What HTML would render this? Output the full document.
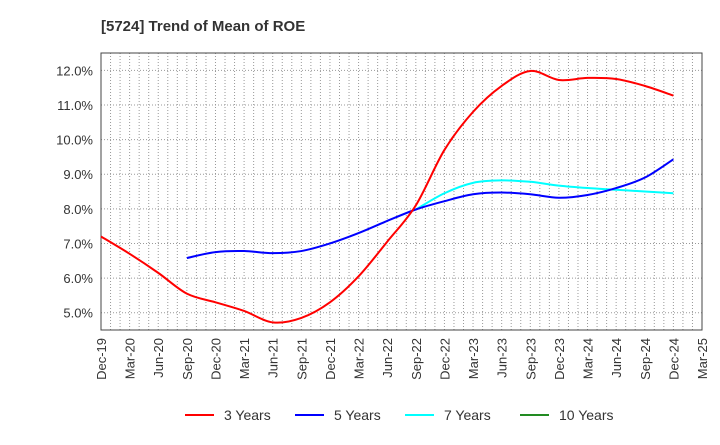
<!DOCTYPE html>
<html><head><meta charset="utf-8"><style>
body{margin:0;background:#fff;font-family:"Liberation Sans",sans-serif;}
</style></head><body>
<svg id="chart" width="720" height="440" xmlns="http://www.w3.org/2000/svg">
<text x="101" y="31" font-size="15" font-weight="bold" fill="#333">[5724]  Trend of Mean of ROE</text>
<g id="grid"></g><g id="axes"></g><g id="series"></g><g id="legend"></g>
</svg>
<script>
const categories=["Dec-19","Mar-20","Jun-20","Sep-20","Dec-20","Mar-21","Jun-21","Sep-21","Dec-21","Mar-22","Jun-22","Sep-22","Dec-22","Mar-23","Jun-23","Sep-23","Dec-23","Mar-24","Jun-24","Sep-24","Dec-24","Mar-25"];
const yTicks=[5,6,7,8,9,10,11,12];
const years3=[7.2,6.7,6.15,5.55,5.3,5.05,4.72,4.85,5.3,6.05,7.05,8.1,9.7,10.8,11.55,11.98,11.72,11.78,11.75,11.55,11.27];
const years5=[null,null,null,6.58,6.75,6.78,6.72,6.78,7.0,7.3,7.65,7.98,8.22,8.42,8.47,8.42,8.32,8.4,8.6,8.9,9.43];
const years7=[null,null,null,null,null,null,null,null,null,null,null,7.98,8.45,8.75,8.82,8.78,8.67,8.6,8.55,8.5,8.45];
const years10=[];
const L=101,R=702,T=53,B=330,yMin=4.5,yMax=12.5;
const NS="http://www.w3.org/2000/svg";
const xs=i=>L+(R-L)*i/(categories.length-1);
const ys=v=>B-(v-yMin)/(yMax-yMin)*(B-T);
function mk(tag,attrs,parent){const e=document.createElementNS(NS,tag);for(const k in attrs)e.setAttribute(k,attrs[k]);parent.appendChild(e);return e;}
const grid=document.getElementById('grid'),axes=document.getElementById('axes'),ser=document.getElementById('series'),leg=document.getElementById('legend');
for(let m=1;m<(categories.length-1)*3;m++){const x=L+(R-L)*m/((categories.length-1)*3);
const l=mk('line',{x1:x,x2:x,y1:T,y2:B,stroke:'#999','stroke-dasharray':'1,2','stroke-width':1},grid);

}
yTicks.forEach(v=>{const y=ys(v);
const l=mk('line',{x1:L,x2:R,y1:y,y2:y,stroke:'#999','stroke-dasharray':'1,2','stroke-width':1},grid);


const t=mk('text',{x:L-8,y:y+5,'text-anchor':'end','font-size':13,fill:'#333'},axes);t.textContent=v.toFixed(1)+'%';

});
categories.forEach((c,i)=>{const x=xs(i);
const t=mk('text',{transform:`translate(${x+5},338) rotate(-90)`,'text-anchor':'end','font-size':13,fill:'#333'},axes);t.textContent=c;

});
const fr=mk('rect',{x:L,y:T,width:R-L,height:B-T,fill:'none',stroke:'#444','stroke-width':1},axes);


function path(data){const p=[];data.forEach((v,i)=>{if(v!=null)p.push([xs(i),ys(v)]);});if(!p.length)return '';
let d=`M${p[0][0]},${p[0][1]}`;for(let i=0;i<p.length-1;i++){const p0=p[i-1]||p[i],p1=p[i],p2=p[i+1],p3=p[i+2]||p2;
d+=` C${p1[0]+(p2[0]-p0[0])/6},${p1[1]+(p2[1]-p0[1])/6} ${p2[0]-(p3[0]-p1[0])/6},${p2[1]-(p3[1]-p1[1])/6} ${p2[0]},${p2[1]}`;}return d;}
const series=[["3 Years",years3,"#ff0000","series-3-years"],["5 Years",years5,"#0000ff","series-5-years"],["7 Years",years7,"#00ffff","series-7-years"],["10 Years",years10,"#228b22","series-10-years"]];
series.slice().reverse().forEach(s=>{const d=path(s[1]);if(!d)return;
const p=mk('path',{d:d,fill:'none',stroke:s[2],'stroke-width':2},ser);

});
const lx=[185,295,405,520];
series.forEach((s,i)=>{const g=mk('g',{},leg);


mk('line',{x1:lx[i],x2:lx[i]+29,y1:415,y2:415,stroke:s[2],'stroke-width':2},g);
const t=mk('text',{x:lx[i]+39,y:420,'font-size':14,fill:'#333'},g);t.textContent=s[0];});
</script>
</body></html>
